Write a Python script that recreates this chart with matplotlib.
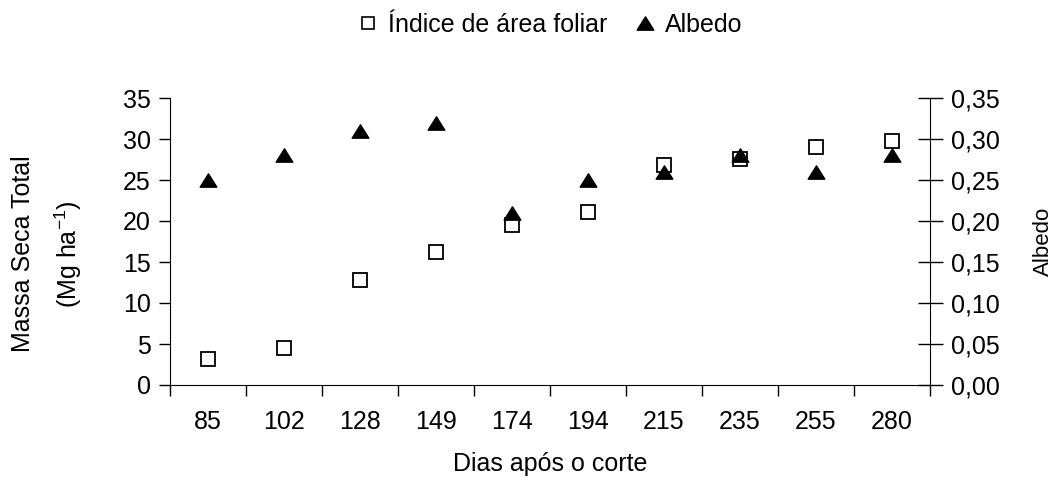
import matplotlib
matplotlib.use('Agg')
import matplotlib.pyplot as plt
import numpy as np
from matplotlib.path import Path
from matplotlib.ticker import FuncFormatter

plt.rcParams['font.family'] = ['Liberation Sans', 'DejaVu Sans']

dias = ['85', '102', '128', '149', '174', '194', '215', '235', '255', '280']
massa = [3.2, 4.5, 12.8, 16.2, 19.5, 21.1, 26.8, 27.6, 29.0, 29.8]
albedo = [0.25, 0.28, 0.31, 0.32, 0.21, 0.25, 0.26, 0.28, 0.26, 0.28]

fs = 18

# wide excel-like triangle
tri = Path([(0, 0.8), (-1, -0.8), (1, -0.8), (0, 0.8)],
           [Path.MOVETO, Path.LINETO, Path.LINETO, Path.CLOSEPOLY])

fig = plt.figure(figsize=(10.56, 4.82), dpi=100)
ax = fig.add_axes([170/1056, 1-385/482, 760/1056, 287/482])
ax2 = ax.twinx()

x = np.arange(len(dias))
ax.plot(x, massa, ls='none', marker='s', ms=9.5, mfc='white', mec='black',
        mew=1.3, zorder=3)
ax2.plot(x, albedo, ls='none', marker=tri, ms=12, color='black', zorder=3)

ax.set_xlim(-0.5, len(dias)-0.5)
ax.set_ylim(0, 35)
ax.set_yticks(np.arange(0, 36, 5))
ax2.set_ylim(0, 0.35)
ax2.set_yticks(np.arange(0, 0.351, 0.05))
ax2.yaxis.set_major_formatter(FuncFormatter(lambda v, p: f'{v:.2f}'.replace('.', ',')))

# category labels centred, ticks between categories
ax.set_xticks(np.arange(-0.5, len(dias), 1))
ax.set_xticklabels([])
ax.set_xticks(x, minor=True)
ax.set_xticklabels(dias, minor=True)
ax.tick_params(axis='x', which='major', direction='out', length=8, width=1)
ax.tick_params(axis='x', which='minor', length=0, pad=18, labelsize=fs)
ax.tick_params(axis='y', direction='out', length=8, width=1, labelsize=fs, pad=6)
ax2.tick_params(axis='y', direction='inout', length=18, width=1, labelsize=fs, pad=6)

for a in (ax, ax2):
    a.spines['top'].set_visible(False)
ax.spines['right'].set_visible(False)
ax2.spines['left'].set_visible(False)
ax2.spines['bottom'].set_visible(False)

ax.set_xlabel('Dias após o corte', fontsize=fs, labelpad=13)
ax2.set_ylabel('Albedo', fontsize=16, labelpad=24)
fig.text(23/1056, 1-254/482, 'Massa Seca Total', rotation=90, fontsize=fs,
         ha='center', va='center')
fig.text(68/1056, 1-254/482, '(Mg ha$^{\\mathregular{-1}}$)', rotation=90, fontsize=fs,
         ha='center', va='center')

# legend
h1, = ax.plot([], [], ls='none', marker='s', ms=9, mfc='white', mec='black', mew=1.2)
h2, = ax.plot([], [], ls='none', marker=tri, ms=12, color='black')
fig.legend([h1, h2], ['Índice de área foliar', 'Albedo'], loc='center',
           bbox_to_anchor=(550/1056, 1-25/482), ncol=2, frameon=False,
           fontsize=fs, handlelength=0.8, handletextpad=0.4, columnspacing=1.1)

fig.savefig('out.png', dpi=100)
